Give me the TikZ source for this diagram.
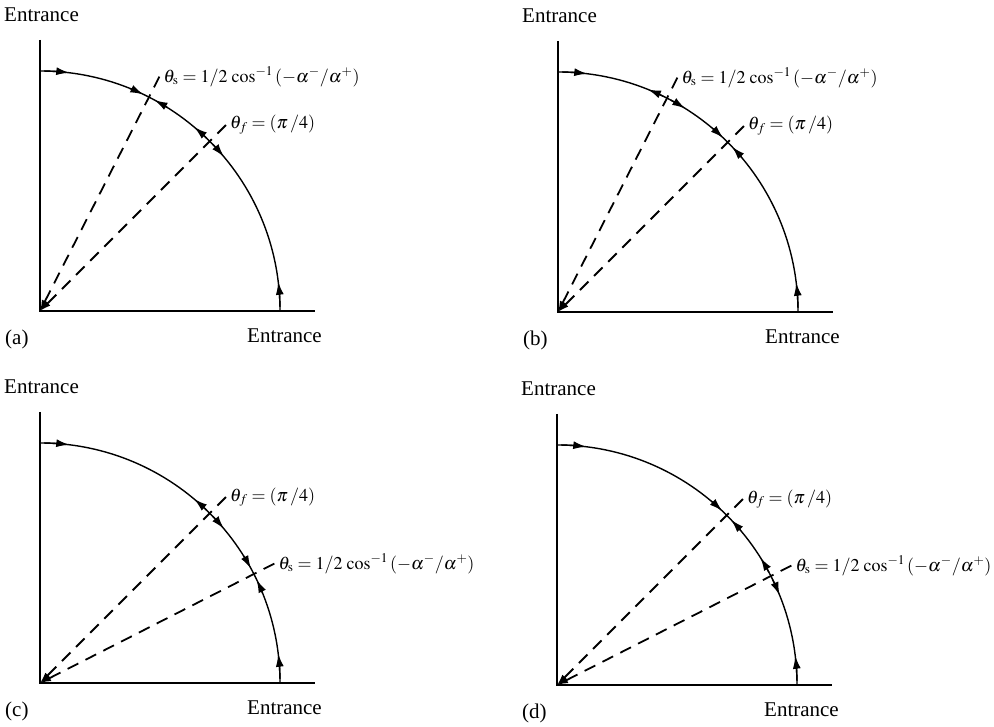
\documentclass[tikz,border=0pt]{standalone}
\usepackage{mathptmx}
\usepackage{fontspec}
\setmainfont{Liberation Serif}
\usetikzlibrary{arrows.meta,calc}

\begin{document}
\begin{tikzpicture}[
  x=1pt, y=1pt,
  lbl/.style={inner sep=0pt, font=\fontsize{21}{25}\selectfont},
  mlbl/.style={inner sep=0pt, inner xsep=4pt, anchor=west, font=\fontsize{18}{22}\selectfont},
  axis/.style={line width=2.4pt},
  orbit/.style={line width=1.4pt},
  flow/.style={orbit,-{Latex[length=13pt,width=8pt]}},
  sep/.style={line width=1.8pt, dash pattern=on 12pt off 8pt, -{Latex[length=11pt,width=7pt]}}
]
  \useasboundingbox (0,0) rectangle (994,727);

  % one quadrant per panel: origin, tag, angle of theta_s, arrow offsets (s, then f)
  \foreach \ox/\oy/\tag/\ts/\sfrom/\sto/\ffrom/\fto in {
      40/416/a/63/5/1.5/1/5,
      558/415/b/63/1/5/5/1.5,
      40/44/c/27/5/1.5/1/5,
      557/42/d/27/1/5/5/1.5}{
    \coordinate (o\tag) at (\ox,\oy);
    \coordinate (top\tag) at ($(o\tag)+(0,271)$);
    \coordinate (right\tag) at ($(o\tag)+(275,0)$);
    \coordinate (es\tag) at ($(o\tag)+(\ts:263pt)$);
    \coordinate (ef\tag) at ($(o\tag)+(45:263pt)$);

    \draw[axis] (top\tag) -- (o\tag) -- (right\tag);
    \draw[orbit] ($(o\tag)+(90:240pt)$) arc[start angle=90, end angle=0, radius=240pt];

    \draw[sep] (es\tag) -- (o\tag);
    \draw[sep] (ef\tag) -- (o\tag);

    % entrance arrows
    \draw[flow] ($(o\tag)+(89:240pt)$) arc[start angle=89, end angle=83, radius=240pt];
    \draw[flow] ($(o\tag)+(1:240pt)$) arc[start angle=1, end angle=7, radius=240pt];

    % arrows round theta_s
    \draw[flow] ($(o\tag)+({\ts+\sfrom}:240pt)$) arc[start angle={\ts+\sfrom}, end angle={\ts+\sto}, radius=240pt];
    \draw[flow] ($(o\tag)+({\ts-\sfrom}:240pt)$) arc[start angle={\ts-\sfrom}, end angle={\ts-\sto}, radius=240pt];
    % arrows round theta_f
    \draw[flow] ($(o\tag)+({45+\ffrom}:240pt)$) arc[start angle={45+\ffrom}, end angle={45+\fto}, radius=240pt];
    \draw[flow] ($(o\tag)+({45-\ffrom}:240pt)$) arc[start angle={45-\ffrom}, end angle={45-\fto}, radius=240pt];

    \node[mlbl] (ls\tag) at (es\tag)
      {$\thickmuskip=4mu \theta_{\mathrm{s}} = 1/2\,\cos^{-1}\,(-\alpha^{-}/\alpha^{+})$};
    \node[mlbl] (lf\tag) at (ef\tag) {$\thickmuskip=4mu \theta_f = (\pi\,/4)$};

    \node[lbl, anchor=west] (entt\tag) at ($(o\tag)+(-36,296)$) {Entrance};
    \node[lbl, anchor=east] (entb\tag) at ($(o\tag)+(282,-25)$) {Entrance};
    \node[lbl, anchor=west] (tag\tag) at ($(o\tag)+(-35,-28)$) {(\tag)};
  }
\end{tikzpicture}
\end{document}
